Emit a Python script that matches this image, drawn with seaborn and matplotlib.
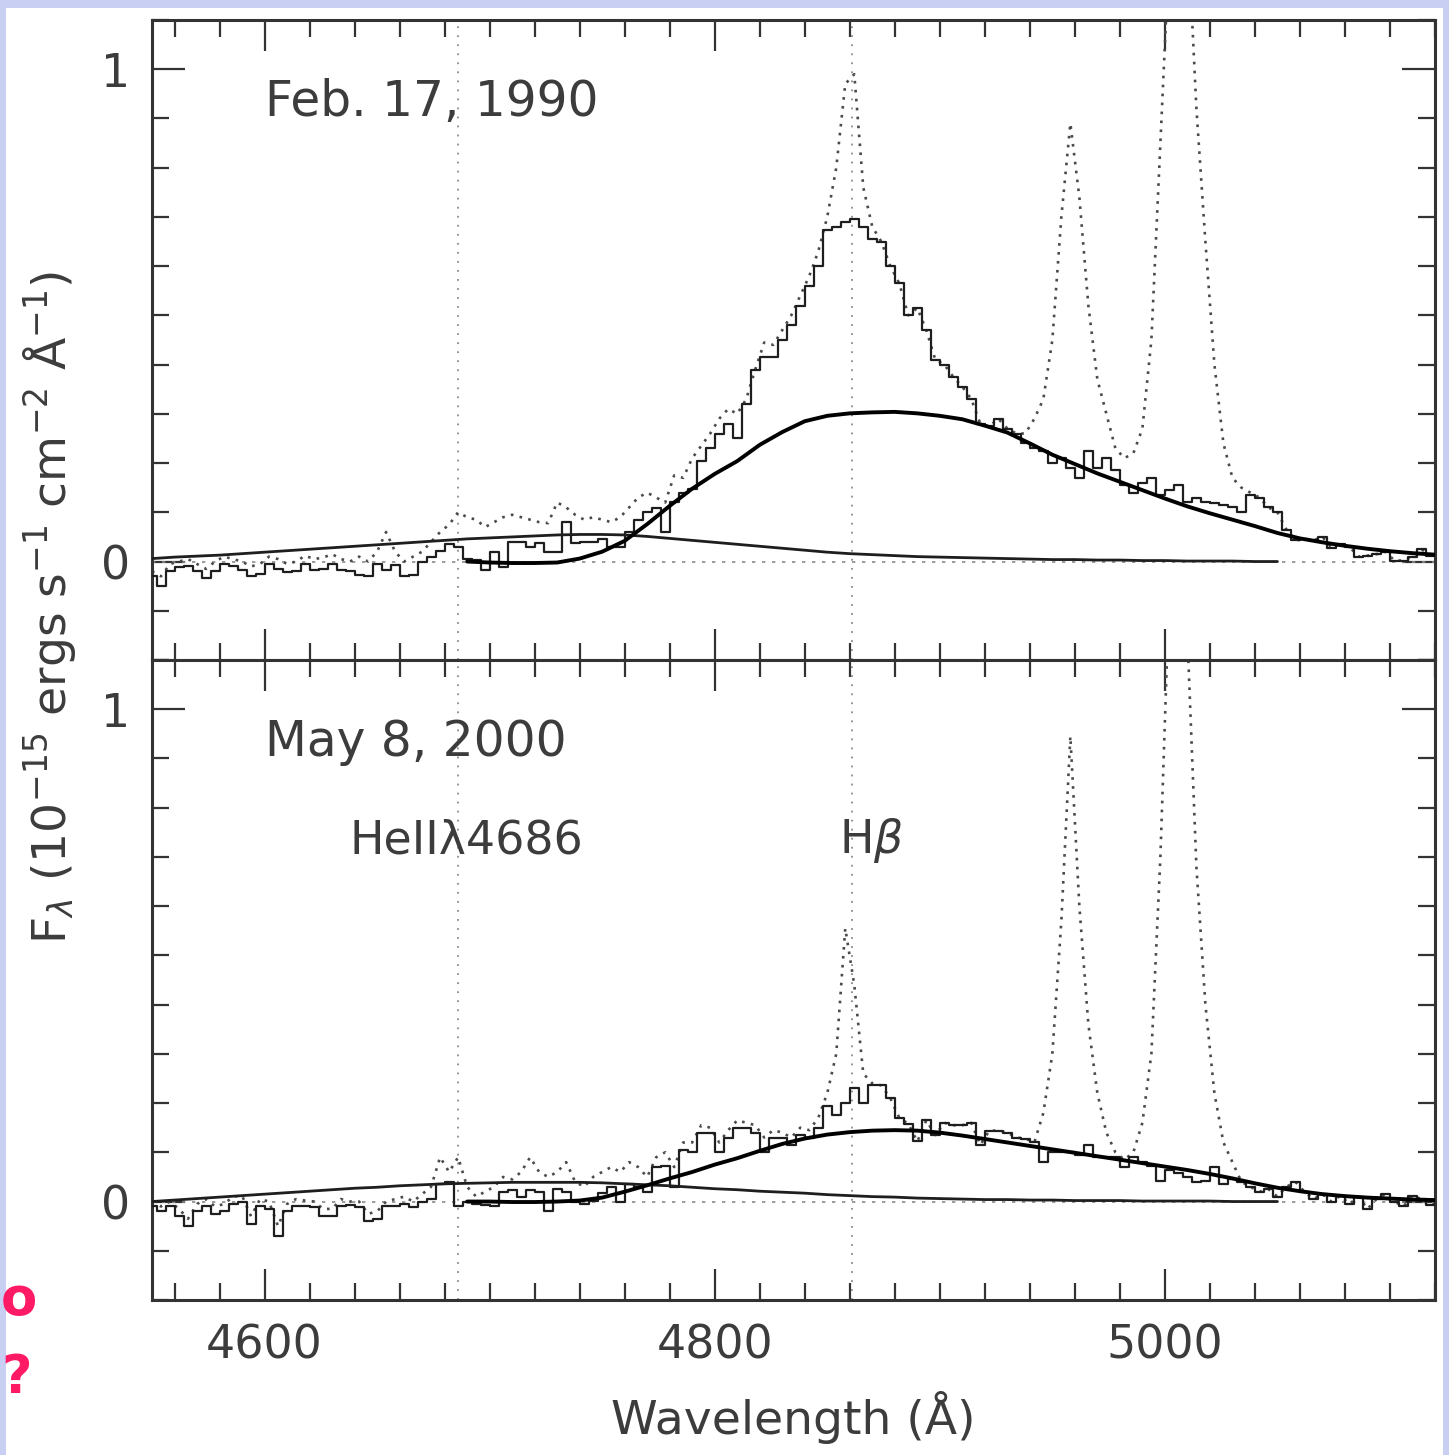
import numpy as np
import matplotlib
matplotlib.use("Agg")
import matplotlib.pyplot as plt
import seaborn as sns
from matplotlib.ticker import MultipleLocator, FixedLocator, NullFormatter
from matplotlib.patches import Rectangle

# ---------------------------------------------------------------------------
# Spectra: 4 Å bins starting at 4550 Å (flux in 1e-15 erg/s/cm^2/Å)
# ---------------------------------------------------------------------------
WAVE_START = 4550.0
WAVE_STEP = 4.0

# 1990 observed spectrum (dotted)
feb_obs = [
    -0.020, -0.030, -0.005, 0.000, 0.005, -0.005, -0.015, 0.000,   # 4550
    0.010, 0.005, 0.000, -0.010, -0.005, 0.010, 0.005, -0.005,     # 4582
    0.000, 0.012, 0.005, 0.008, 0.015, 0.005, 0.000, 0.010,        # 4614
    0.000, 0.020, 0.060, 0.020, 0.000, 0.010, 0.020, 0.040,        # 4646
    0.060, 0.075, 0.100, 0.090, 0.085, 0.070, 0.080, 0.090,        # 4678
    0.095, 0.090, 0.085, 0.080, 0.078, 0.120, 0.110, 0.095,        # 4710
    0.085, 0.090, 0.085, 0.080, 0.090, 0.110, 0.130, 0.140,        # 4742
    0.130, 0.120, 0.175, 0.170, 0.210, 0.235, 0.260, 0.290,        # 4774
    0.310, 0.300, 0.330, 0.390, 0.445, 0.440, 0.470, 0.500,        # 4806
    0.540, 0.580, 0.630, 0.700, 0.800, 0.970, 0.990, 0.760,        # 4838
    0.680, 0.650, 0.600, 0.565, 0.500, 0.515, 0.470, 0.410,        # 4870
    0.400, 0.375, 0.355, 0.330, 0.280, 0.275, 0.290, 0.270,        # 4902
    0.260, 0.260, 0.290, 0.330, 0.450, 0.700, 0.890, 0.740,        # 4934
    0.520, 0.370, 0.300, 0.230, 0.210, 0.220, 0.270, 0.450,        # 4966
    0.850, 1.250, 1.600, 1.300, 0.920, 0.650, 0.400, 0.240,        # 4998
    0.170, 0.150, 0.140, 0.130, 0.110, 0.100, 0.065, 0.043,        # 5030
    0.045, 0.043, 0.050, 0.028, 0.036, 0.030, 0.010, 0.012,        # 5062
    0.015, 0.020, 0.002, 0.002, 0.010, 0.025, 0.012, 0.015,        # 5094
]

# 1990 spectrum with narrow lines removed (solid)
feb_clean = [
    -0.030, -0.050, -0.020, -0.012, -0.010, -0.020, -0.033, -0.020,  # 4550
    -0.006, -0.010, -0.018, -0.030, -0.025, -0.006, -0.015, -0.022,  # 4582
    -0.020, -0.006, -0.018, -0.016, -0.005, -0.018, -0.020, -0.028,  # 4614
    -0.030, -0.006, -0.018, -0.008, -0.030, -0.028, 0.000, 0.010,    # 4646
    0.022, 0.036, 0.030, 0.005, 0.003, -0.018, 0.020, -0.012,        # 4678
    0.040, 0.040, 0.030, 0.038, 0.020, 0.020, 0.080, 0.038,          # 4710
    0.040, 0.040, 0.045, 0.030, 0.030, 0.060, 0.085, 0.100,          # 4742
    0.108, 0.060, 0.120, 0.140, 0.148, 0.205, 0.230, 0.260,          # 4774
    0.280, 0.250, 0.320, 0.390, 0.415, 0.415, 0.450, 0.480,          # 4806
    0.520, 0.560, 0.600, 0.673, 0.680, 0.690, 0.695, 0.680,          # 4838
    0.655, 0.650, 0.600, 0.565, 0.500, 0.515, 0.470, 0.410,          # 4870
    0.400, 0.375, 0.355, 0.330, 0.280, 0.275, 0.290, 0.270,          # 4902
    0.260, 0.240, 0.230, 0.225, 0.200, 0.210, 0.190, 0.170,          # 4934
    0.225, 0.190, 0.210, 0.185, 0.155, 0.140, 0.160, 0.170,          # 4966
    0.135, 0.145, 0.155, 0.120, 0.130, 0.120, 0.118, 0.115,          # 4998
    0.110, 0.100, 0.135, 0.130, 0.110, 0.100, 0.065, 0.043,          # 5030
    0.045, 0.043, 0.050, 0.028, 0.036, 0.030, 0.010, 0.012,          # 5062
    0.015, 0.020, 0.002, 0.002, 0.010, 0.025, 0.012, 0.015,          # 5094
]

# 2000 observed spectrum (dotted)
may_obs = [
    0.000, -0.010, 0.000, -0.015, -0.035, -0.005, 0.005, -0.010,   # 4550
    -0.005, 0.010, 0.012, -0.030, 0.005, 0.000, -0.050, -0.005,    # 4582
    0.005, 0.002, 0.000, -0.015, -0.015, 0.005, 0.000, 0.000,      # 4614
    -0.025, -0.020, 0.000, 0.005, 0.010, 0.000, 0.015, 0.030,      # 4646
    0.090, 0.060, 0.090, 0.030, 0.010, 0.020, 0.030, 0.050,        # 4678
    0.045, 0.060, 0.090, 0.060, 0.050, 0.060, 0.080, 0.040,        # 4710
    0.030, 0.050, 0.060, 0.070, 0.060, 0.080, 0.070, 0.050,        # 4742
    0.090, 0.100, 0.070, 0.120, 0.120, 0.155, 0.150, 0.120,        # 4774
    0.145, 0.165, 0.160, 0.155, 0.130, 0.145, 0.140, 0.130,        # 4806
    0.150, 0.145, 0.170, 0.220, 0.300, 0.555, 0.440, 0.260,        # 4838
    0.240, 0.236, 0.210, 0.170, 0.158, 0.122, 0.165, 0.135,        # 4870
    0.160, 0.155, 0.155, 0.160, 0.115, 0.144, 0.144, 0.140,        # 4902
    0.130, 0.128, 0.120, 0.180, 0.300, 0.570, 0.945, 0.600,        # 4934
    0.360, 0.220, 0.140, 0.100, 0.085, 0.100, 0.160, 0.300,        # 4966
    0.700, 1.250, 1.500, 1.150, 0.680, 0.400, 0.220, 0.120,        # 4998
    0.080, 0.040, 0.030, 0.020, 0.025, 0.010, 0.030, 0.040,        # 5030
    0.020, 0.005, 0.015, 0.000, 0.012, -0.005, 0.010, -0.015,      # 5062
    0.005, 0.015, 0.000, -0.010, 0.012, 0.005, -0.008, 0.000,      # 5094
]

# 2000 spectrum with narrow lines removed (solid)
may_clean = [
    -0.010, -0.020, -0.010, -0.030, -0.050, -0.020, -0.010, -0.025,  # 4550
    -0.020, -0.005, 0.000, -0.045, -0.010, -0.015, -0.070, -0.020,   # 4582
    -0.010, -0.010, -0.012, -0.030, -0.030, -0.010, -0.008, -0.012,  # 4614
    -0.040, -0.035, -0.010, -0.010, -0.005, -0.012, 0.000, 0.005,    # 4646
    0.035, 0.040, -0.010, 0.000, -0.005, -0.008, -0.010, 0.020,      # 4678
    0.024, 0.010, 0.024, 0.020, -0.020, 0.025, 0.020, 0.000,         # 4710
    -0.005, 0.002, 0.017, 0.030, 0.000, 0.035, 0.030, 0.020,         # 4742
    0.070, 0.072, 0.030, 0.105, 0.100, 0.140, 0.140, 0.100,          # 4774
    0.130, 0.150, 0.150, 0.140, 0.100, 0.130, 0.129, 0.115,          # 4806
    0.135, 0.130, 0.150, 0.195, 0.175, 0.200, 0.231, 0.200,          # 4838
    0.236, 0.236, 0.210, 0.170, 0.158, 0.122, 0.165, 0.135,          # 4870
    0.160, 0.155, 0.155, 0.160, 0.115, 0.144, 0.144, 0.140,          # 4902
    0.130, 0.128, 0.120, 0.080, 0.100, 0.100, 0.100, 0.095,          # 4934
    0.115, 0.090, 0.090, 0.090, 0.070, 0.090, 0.080, 0.072,          # 4966
    0.042, 0.065, 0.058, 0.050, 0.040, 0.042, 0.071, 0.035,          # 4998
    0.045, 0.040, 0.030, 0.020, 0.025, 0.010, 0.030, 0.040,          # 5030
    0.020, 0.005, 0.015, 0.000, 0.012, -0.005, 0.010, -0.015,        # 5062
    0.005, 0.015, 0.000, -0.010, 0.012, 0.005, -0.008, 0.000,        # 5094
]

# ---------------------------------------------------------------------------
# Fitted broad components, sampled every 10 Å
# ---------------------------------------------------------------------------
HB_FIT_START = 4690.0
HE_FIT_START = 4550.0
FIT_STEP = 10.0

feb_hb_fit = [
    0.000, -0.002, -0.003, -0.003, -0.002, 0.006, 0.020, 0.042, 0.076, 0.113,   # 4690
    0.148, 0.178, 0.204, 0.237, 0.263, 0.285, 0.296, 0.301, 0.303, 0.304,      # 4790
    0.301, 0.296, 0.289, 0.276, 0.262, 0.240, 0.217, 0.198, 0.179, 0.162,      # 4890
    0.145, 0.128, 0.112, 0.098, 0.085, 0.072, 0.058, 0.047, 0.039, 0.032,      # 4990
    0.026, 0.021, 0.017, 0.014,                                                # 5090
]
feb_he_fit = [
    0.006, 0.009, 0.011, 0.013, 0.016, 0.019, 0.022, 0.025, 0.028, 0.031,      # 4550
    0.034, 0.037, 0.040, 0.043, 0.046, 0.048, 0.050, 0.052, 0.054, 0.055,      # 4650
    0.055, 0.054, 0.051, 0.047, 0.043, 0.039, 0.035, 0.031, 0.027, 0.023,      # 4750
    0.019, 0.016, 0.014, 0.012, 0.010, 0.009, 0.008, 0.007, 0.006, 0.005,      # 4850
    0.004, 0.004, 0.003, 0.003, 0.002, 0.002, 0.001, 0.001, 0.001, 0.000,      # 4950
    0.000,                                                                     # 5050
]
may_hb_fit = [
    0.000, 0.000, -0.001, -0.001, 0.000, 0.002, 0.008, 0.020, 0.033, 0.047,    # 4690
    0.060, 0.075, 0.088, 0.103, 0.117, 0.128, 0.136, 0.141, 0.144, 0.145,      # 4790
    0.144, 0.140, 0.134, 0.127, 0.120, 0.113, 0.106, 0.099, 0.092, 0.085,      # 4890
    0.078, 0.071, 0.064, 0.056, 0.047, 0.037, 0.028, 0.021, 0.015, 0.011,      # 4990
    0.008, 0.006, 0.004, 0.003,                                                # 5090
]
may_he_fit = [
    0.000, 0.003, 0.006, 0.009, 0.012, 0.015, 0.018, 0.021, 0.024, 0.027,      # 4550
    0.029, 0.032, 0.034, 0.036, 0.037, 0.038, 0.039, 0.039, 0.039, 0.039,      # 4650
    0.038, 0.036, 0.034, 0.032, 0.029, 0.026, 0.024, 0.021, 0.019, 0.017,      # 4750
    0.014, 0.012, 0.010, 0.009, 0.007, 0.006, 0.005, 0.004, 0.004, 0.003,      # 4850
    0.003, 0.002, 0.002, 0.002, 0.001, 0.001, 0.001, 0.001, 0.000, 0.000,      # 4950
    0.000,                                                                     # 5050
]

epochs = ["Feb. 17, 1990", "May 8, 2000"]
line_marks = [4686.0, 4861.0]
line_names = ["HeII\u03bb4686", r"H$\beta$"]
x_ticks = [4600, 4800, 5000]
y_ticks = [0, 1]


def grid(start, step, values):
    return start + step * np.arange(len(values))


# ---------------------------------------------------------------------------
sns.set_theme(style="ticks")
plt.rcParams["font.family"] = ["DejaVu Sans"]
plt.rcParams["mathtext.fontset"] = "dejavusans"

TXT = "#3c3c3c"
INK = "#1e1e1e"
W, H = 1449, 1455
fig = plt.figure(figsize=(W / 100, H / 100), dpi=100, facecolor="#c9cff2")
fig.patches.append(Rectangle((6 / W, 0), (1443 - 6) / W, 1 - 8 / H,
                             transform=fig.transFigure, facecolor="white",
                             edgecolor="none", zorder=-10))

left, width = 152 / W, (1435 - 152) / W
ax_top = fig.add_axes([left, 1 - 660 / H, width, 640 / H])
ax_bot = fig.add_axes([left, 1 - 1300 / H, width, 640 / H])

panels = [
    (ax_top, feb_obs, feb_clean, feb_hb_fit, feb_he_fit),
    (ax_bot, may_obs, may_clean, may_hb_fit, may_he_fit),
]

for i, (ax, obs, clean, hb_fit, he_fit) in enumerate(panels):
    ax.set_facecolor("white")
    wave = grid(WAVE_START, WAVE_STEP, obs)

    # reference lines: zero level and rest wavelengths
    ax.axhline(0, color="#8a8a8a", lw=1.2, ls=(0, (2, 4)), zorder=1)
    for lam in line_marks:
        ax.axvline(lam, color="#8a8a8a", lw=1.3, ls=(0, (1, 4)), zorder=1)

    # observed spectrum as a dotted trace, narrow-line-free one as a histogram
    sns.lineplot(x=wave, y=np.asarray(obs), ax=ax, estimator=None,
                 color="#4a4a4a", lw=1.9, ls=(0, (1, 2.4)), zorder=2)
    sns.lineplot(x=wave, y=np.asarray(clean), ax=ax, estimator=None,
                 drawstyle="steps-mid", color=INK, lw=1.6, zorder=3)
    sns.lineplot(x=grid(HE_FIT_START, FIT_STEP, he_fit), y=np.asarray(he_fit),
                 ax=ax, estimator=None, color=INK, lw=2.0, zorder=4)
    sns.lineplot(x=grid(HB_FIT_START, FIT_STEP, hb_fit), y=np.asarray(hb_fit),
                 ax=ax, estimator=None, color="black", lw=2.8, zorder=5)

    ax.set_xlim(4550, 5120)
    ax.set_ylim(-0.2, 1.1)
    ax.xaxis.set_major_locator(FixedLocator(x_ticks))
    ax.xaxis.set_minor_locator(MultipleLocator(20))
    ax.yaxis.set_major_locator(FixedLocator(y_ticks))
    ax.yaxis.set_minor_locator(MultipleLocator(0.1))
    ax.tick_params(which="both", direction="in", top=True, right=True,
                   color="#333333", width=1.6, labelcolor=TXT, labelsize=33)
    ax.tick_params(axis="x", which="major", length=22, pad=17)
    ax.tick_params(axis="y", which="major", length=24, pad=16)
    ax.tick_params(which="minor", length=12)
    for sp in ax.spines.values():
        sp.set_visible(True)
        sp.set_color("#333333")
        sp.set_linewidth(2.2)
    ax.set_xlabel("")
    ax.set_ylabel("")

    ax.text(4600, 0.933, epochs[i], fontsize=35, color=TXT,
            ha="left", va="center")

ax_top.xaxis.set_major_formatter(NullFormatter())

for lam, name in zip([4689.6, 4869.6], line_names):
    ax_bot.text(lam, 0.733, name, fontsize=33, color=TXT,
                ha="center", va="center")

ax_bot.set_xlabel("Wavelength (\u00c5)", fontsize=34, color=TXT, labelpad=16)

fig.text(50 / W, 1 - 607 / H,
         r"F$_\lambda$ (10$^{-15}$ ergs s$^{-1}$ cm$^{-2}$ $\mathrm{\AA}^{-1}$)",
         rotation=90, ha="center", va="center", fontsize=34, color=TXT)

# stray slide text along the left edge
fig.text(1 / W, 1 - 1300 / H, "o", color="#ff1a66", fontsize=38,
         fontweight="bold", ha="left", va="center")
fig.text(1 / W, 1 - 1378 / H, "?", color="#ff1a66", fontsize=38,
         fontweight="bold", ha="left", va="center")

fig.savefig("out.png", dpi=100, facecolor=fig.get_facecolor())
